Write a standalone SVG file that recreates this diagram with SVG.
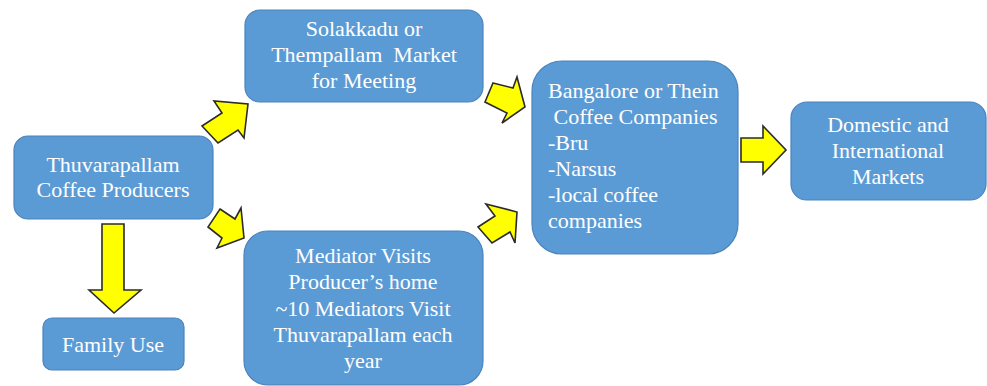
<svg xmlns="http://www.w3.org/2000/svg" width="987" height="386" viewBox="0 0 987 386">
  <style>
    .box { fill: #5B9BD5; stroke: #4A84BC; stroke-width: 1.2; }
    .arrow { fill: #FFFF00; stroke: #2B2B2B; stroke-width: 1.6; stroke-linejoin: miter; }
    .t { font-size: 22px; fill: #FFFFFF; }
    .c { text-anchor: middle; }
  </style>
  <rect width="987" height="386" fill="#FFFFFF"/>

  <g font-family="'Liberation Serif', 'DejaVu Serif', serif">
  <g id="producers">
    <rect class="box" x="14" y="136" width="199" height="83" rx="14"/>
    <text class="t c" x="113" y="172">Thuvarapallam</text>
    <text class="t c" x="113" y="197">Coffee Producers</text>
  </g>

  <g id="market">
    <rect class="box" x="245" y="10" width="238" height="92" rx="15"/>
    <text class="t c" x="364" y="36">Solakkadu or</text>
    <text class="t c" x="364" y="62" xml:space="preserve">Thempallam  Market</text>
    <text class="t c" x="364" y="88">for Meeting</text>
  </g>

  <g id="mediator">
    <rect class="box" x="244" y="231" width="239" height="154" rx="24"/>
    <text class="t c" x="363" y="263">Mediator Visits</text>
    <text class="t c" x="363" y="289">Producer’s home</text>
    <text class="t c" x="363" y="316">~10 Mediators Visit</text>
    <text class="t c" x="363" y="342">Thuvarapallam each</text>
    <text class="t c" x="363" y="368">year</text>
  </g>

  <g id="family">
    <rect class="box" x="43" y="318" width="141" height="52" rx="9"/>
    <text class="t c" x="113" y="352">Family Use</text>
  </g>

  <g id="companies">
    <rect class="box" x="532" y="61" width="206" height="193" rx="30"/>
    <text class="t" x="548" y="98">Bangalore or Thein</text>
    <text class="t" x="548" y="124" xml:space="preserve"> Coffee Companies</text>
    <text class="t" x="548" y="150">-Bru</text>
    <text class="t" x="548" y="176">-Narsus</text>
    <text class="t" x="548" y="202">-local coffee</text>
    <text class="t" x="548" y="228">companies</text>
  </g>

  <g id="markets">
    <rect class="box" x="791" y="102" width="195" height="98" rx="16"/>
    <text class="t c" x="888" y="132">Domestic and</text>
    <text class="t c" x="888" y="158">International</text>
    <text class="t c" x="888" y="184">Markets</text>
  </g>
  </g>

  <g id="connectors">
    <!-- producers to market -->
    <polygon class="arrow" points="202,126 222,113 214,101 248,104 244,138 238,130 218,143"/>
    <!-- producers to mediator -->
    <polygon class="arrow" points="220,209 235,219 241,208 244,238 217,248 222,238 208,227"/>
    <!-- producers to family use -->
    <polygon class="arrow" points="102,224 124,224 124,290 141,290 114,313 89,290 102,290"/>
    <!-- market to companies -->
    <polygon class="arrow" points="493,83 513,88 517,77 525,107 502,123 507,113 485,102"/>
    <!-- mediator to companies -->
    <polygon class="arrow" points="486,204 517,212 515,243 510,232 492,243 478,227 495,216"/>
    <!-- companies to markets -->
    <polygon class="arrow" points="741,138 763,138 763,126 786,150 763,174 763,162 741,162"/>
  </g>
</svg>
